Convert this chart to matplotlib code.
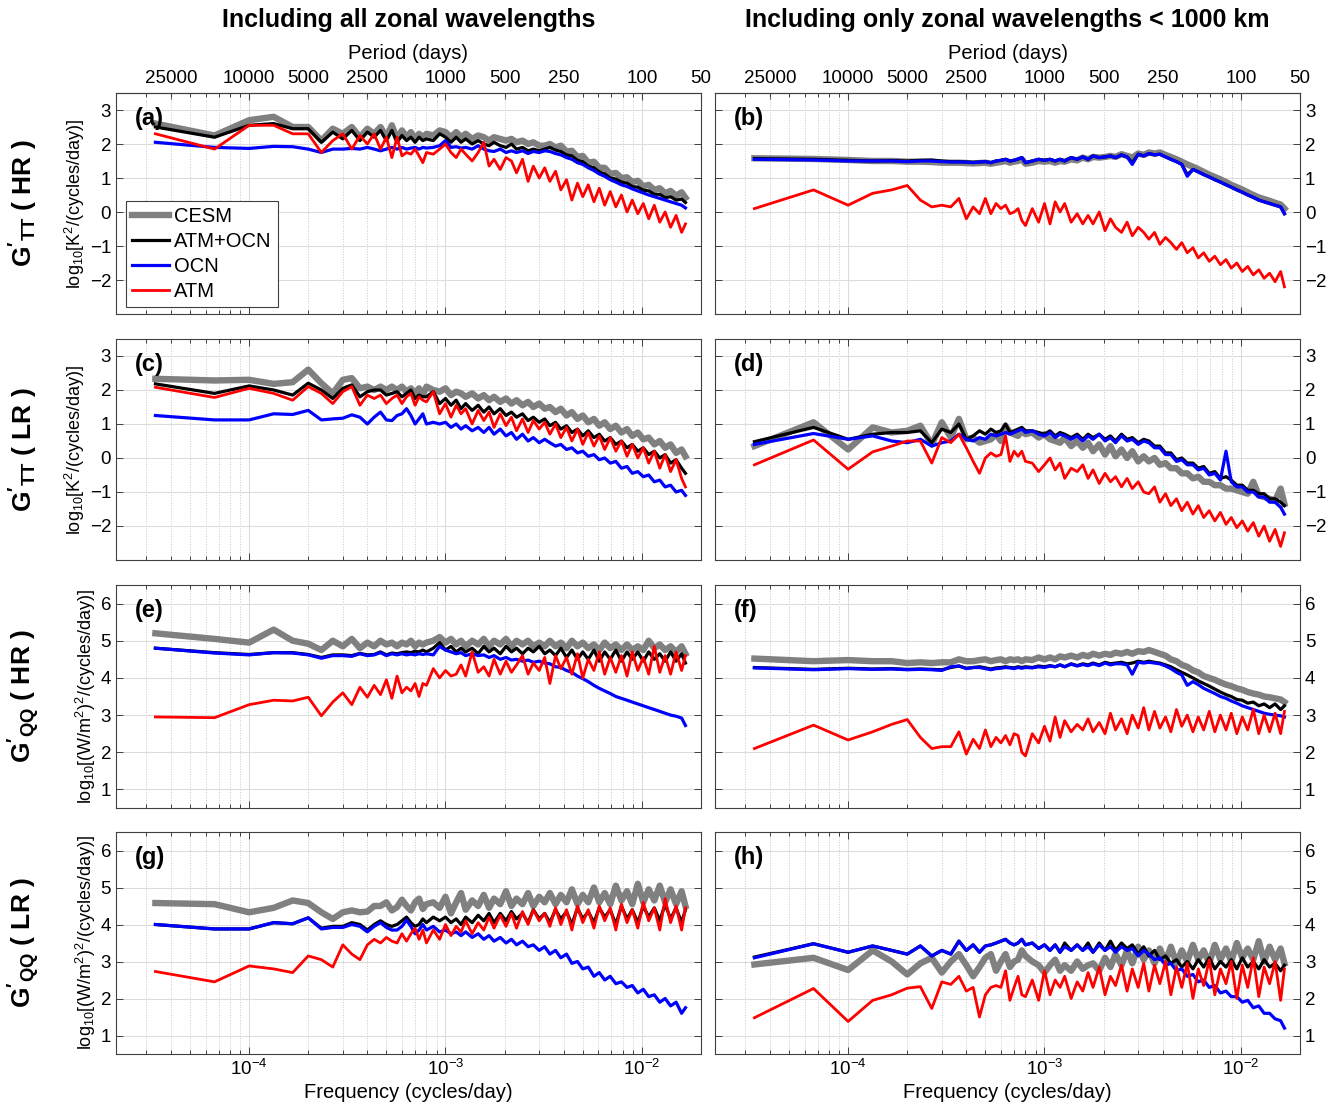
import numpy as np
import matplotlib
matplotlib.use('Agg')
import matplotlib.pyplot as plt
from matplotlib.ticker import LogLocator, NullLocator, NullFormatter

plt.rcParams['font.family'] = ['Liberation Sans', 'DejaVu Sans']
plt.rcParams['mathtext.fontset'] = 'custom'
plt.rcParams['mathtext.rm'] = 'Liberation Sans'
plt.rcParams['mathtext.it'] = 'Liberation Sans:italic'
plt.rcParams['mathtext.bf'] = 'Liberation Sans:bold'

# harmonic number of each plotted spectral estimate (record length in days below)
harmonic = [1, 2, 3, 4, 5, 6, 7, 8, 9, 10, 11, 12, 13, 14, 15, 16, 17, 18, 19, 20, 21, 22, 23, 24,
            26, 28, 30, 32, 34, 36, 38, 41, 44, 47, 50, 53, 57, 61, 65, 69, 74, 79, 84, 90, 96,
            102, 109, 116, 124, 132, 141, 150, 160, 171, 182, 194, 207, 221, 236, 252, 268, 286,
            305, 325, 347, 370, 394, 420, 448, 478, 500]
record_days = 30000.0

# log10 spectra; order CESM, ATM+OCN, OCN, ATM
a_cesm = [2.6, 2.25, 2.7, 2.8, 2.5, 2.5, 2.1, 2.45, 2.3, 2.5, 2.2, 2.45, 2.3, 2.5, 2.2, 2.55, 2.15, 2.4, 2.2, 2.35, 2.15, 2.3, 2.2, 2.3,
          2.25, 2.4, 2.35, 2.2, 2.35, 2.2, 2.3, 2.15, 2.25, 2.2, 2.1, 2.2, 2.15, 2.1, 2.15, 2.05, 2.1, 2.0, 2.05, 1.95, 1.95,
          2.0, 1.9, 1.95, 1.78, 1.8, 1.62, 1.65, 1.45, 1.48, 1.3, 1.3, 1.12, 1.15, 1.0, 1.02, 0.88, 0.92, 0.75, 0.8, 0.65, 0.7, 0.55, 0.62, 0.48, 0.58, 0.42]
a_atmocn = [2.5, 2.2, 2.55, 2.6, 2.45, 2.45, 2.05, 2.35, 2.15, 2.4, 2.1, 2.35, 2.2, 2.4, 2.1, 2.4, 2.05, 2.25, 2.1, 2.2, 2.05, 2.2, 2.1, 2.15,
            2.1, 2.3, 2.2, 2.05, 2.2, 2.05, 2.15, 2.0, 2.1, 2.0, 1.95, 2.05, 1.95, 1.9, 2.0, 1.85, 1.9, 1.8, 1.85, 1.8, 1.85,
            1.9, 1.82, 1.78, 1.68, 1.65, 1.52, 1.48, 1.35, 1.3, 1.18, 1.12, 1.0, 0.97, 0.88, 0.85, 0.75, 0.73, 0.64, 0.62, 0.52, 0.52, 0.42, 0.45, 0.35, 0.38, 0.28]
a_ocn = [2.05, 1.9, 1.87, 1.93, 1.92, 1.85, 1.75, 1.85, 1.85, 1.87, 1.85, 1.9, 1.85, 1.8, 1.85, 1.9, 1.85, 1.9, 1.85, 1.88, 1.9, 1.85, 1.9, 1.88,
         1.9, 1.95, 2.1, 1.9, 1.92, 1.88, 1.9, 1.85, 1.95, 1.85, 1.8, 1.78, 1.85, 1.75, 1.8, 1.75, 1.8, 1.72, 1.78, 1.75, 1.8,
         1.78, 1.72, 1.68, 1.6, 1.55, 1.45, 1.4, 1.3, 1.22, 1.12, 1.05, 0.95, 0.88, 0.8, 0.75, 0.68, 0.62, 0.56, 0.5, 0.45, 0.4, 0.35, 0.3, 0.25, 0.2, 0.12]
a_atm = [2.3, 1.85, 2.55, 2.55, 2.3, 2.3, 1.75, 2.1, 2.3, 1.85, 2.25, 2.0, 2.3, 1.85, 2.2, 1.6, 2.2, 1.65, 1.75, 1.7, 1.85, 1.65, 1.45, 1.75,
         1.7, 1.85, 2.0, 1.75, 1.6, 1.85, 1.7, 1.5, 1.75, 2.05, 1.35, 1.55, 1.25, 1.6, 1.5, 1.15, 1.55, 0.9, 1.35, 1.0, 1.3,
         0.9, 1.2, 0.65, 0.95, 0.35, 0.85, 0.45, 0.8, 0.3, 0.7, 0.2, 0.6, 0.15, 0.5, 0.0, 0.35, -0.05, 0.25, -0.2, 0.2, -0.3, 0.0, -0.45, -0.1, -0.6, -0.35]

b_cesm = [1.58, 1.56, 1.53, 1.5, 1.5, 1.48, 1.48, 1.47, 1.45, 1.45, 1.45, 1.44, 1.43, 1.44, 1.45, 1.42, 1.45, 1.47, 1.5, 1.45, 1.48, 1.5, 1.55, 1.42,
          1.45, 1.5, 1.48, 1.5, 1.45, 1.5, 1.48, 1.55, 1.52, 1.6, 1.55, 1.62, 1.6, 1.62, 1.65, 1.62, 1.7, 1.65, 1.6, 1.72, 1.68,
          1.75, 1.72, 1.75, 1.68, 1.62, 1.55, 1.48, 1.4, 1.33, 1.26, 1.18, 1.1, 1.03, 0.96, 0.88, 0.8, 0.73, 0.66, 0.58, 0.5, 0.43, 0.38, 0.33, 0.27, 0.22, 0.1]
b_atmocn = [1.57, 1.55, 1.52, 1.5, 1.51, 1.5, 1.52, 1.53, 1.5, 1.48, 1.48, 1.47, 1.46, 1.47, 1.48, 1.45, 1.5, 1.52, 1.55, 1.5, 1.52, 1.56, 1.6, 1.45,
            1.5, 1.55, 1.52, 1.55, 1.5, 1.55, 1.5, 1.6, 1.55, 1.62, 1.55, 1.65, 1.6, 1.62, 1.65, 1.6, 1.68, 1.62, 1.45, 1.7, 1.65,
            1.72, 1.68, 1.7, 1.62, 1.55, 1.48, 1.4, 1.1, 1.25, 1.18, 1.1, 1.03, 0.95, 0.88, 0.8, 0.73, 0.65, 0.58, 0.5, 0.43, 0.35, 0.3, 0.25, 0.2, 0.15, -0.05]
b_ocn = [1.55, 1.53, 1.5, 1.5, 1.5, 1.48, 1.5, 1.5, 1.48, 1.47, 1.47, 1.47, 1.45, 1.47, 1.48, 1.45, 1.5, 1.52, 1.55, 1.5, 1.52, 1.56, 1.6, 1.45,
         1.5, 1.55, 1.52, 1.55, 1.5, 1.55, 1.5, 1.6, 1.55, 1.62, 1.55, 1.65, 1.6, 1.62, 1.65, 1.6, 1.68, 1.62, 1.4, 1.7, 1.65,
         1.72, 1.68, 1.7, 1.62, 1.55, 1.48, 1.4, 1.05, 1.25, 1.18, 1.1, 1.03, 0.95, 0.88, 0.8, 0.73, 0.65, 0.58, 0.5, 0.43, 0.35, 0.3, 0.25, 0.2, 0.15, -0.05]
b_atm = [0.1, 0.65, 0.2, 0.55, 0.65, 0.78, 0.35, 0.15, 0.2, 0.15, 0.4, -0.2, 0.15, -0.05, 0.4, -0.05, 0.25, 0.1, 0.2, -0.05, 0.0, 0.1, -0.25, -0.4,
         0.1, -0.3, 0.25, -0.35, 0.3, 0.0, 0.25, -0.3, -0.05, -0.35, -0.1, -0.35, 0.0, -0.55, -0.2, -0.45, -0.6, -0.3, -0.7, -0.45, -0.6,
         -0.8, -0.6, -0.95, -0.75, -0.9, -1.1, -0.9, -1.2, -1.05, -1.35, -1.2, -1.45, -1.3, -1.55, -1.4, -1.65, -1.5, -1.75, -1.6, -1.85, -1.7, -1.95, -1.8, -2.05, -1.75, -2.2]

c_cesm = [2.33, 2.28, 2.3, 2.18, 2.23, 2.6, 2.2, 1.9, 2.3, 2.35, 2.05, 2.1, 2.0, 2.1, 2.0, 2.1, 2.0, 2.1, 1.95, 2.05, 1.9, 2.05, 1.85, 2.1,
          2.0, 1.95, 2.05, 1.85, 1.95, 1.9, 1.8, 1.9, 1.75, 1.85, 1.7, 1.8, 1.65, 1.75, 1.6, 1.7, 1.55, 1.65, 1.5, 1.6, 1.45,
          1.5, 1.35, 1.45, 1.25, 1.35, 1.15, 1.25, 1.05, 1.15, 0.95, 1.05, 0.85, 0.95, 0.75, 0.85, 0.65, 0.75, 0.55, 0.6, 0.4, 0.5, 0.3, 0.4, 0.15, 0.25, 0.05]
c_atmocn = [2.18, 1.9, 2.12, 2.0, 1.85, 2.2, 2.0, 1.75, 2.05, 2.15, 1.8, 1.95, 2.0, 2.0, 1.85, 1.9, 1.95, 1.8, 1.9, 2.0, 1.75, 1.85, 1.8, 1.8,
            1.95, 1.6, 1.75, 1.55, 1.7, 1.45, 1.6, 1.4, 1.55, 1.35, 1.5, 1.3, 1.45, 1.25, 1.35, 1.2, 1.3, 1.1, 1.2, 1.05, 1.15,
            0.95, 1.05, 0.85, 0.95, 0.75, 0.85, 0.65, 0.8, 0.6, 0.7, 0.5, 0.6, 0.4, 0.5, 0.3, 0.4, 0.2, 0.3, 0.1, 0.2, 0.0, 0.1, -0.15, -0.05, -0.3, -0.45]
c_ocn = [1.25, 1.12, 1.12, 1.3, 1.28, 1.4, 1.12, 1.15, 1.17, 1.27, 1.2, 1.0, 1.2, 1.35, 1.12, 1.1, 1.25, 1.3, 1.45, 1.25, 1.0, 1.15, 1.3, 1.0,
         1.05, 1.0, 1.05, 0.9, 1.0, 0.85, 0.95, 0.8, 0.9, 0.75, 0.9, 0.7, 0.85, 0.65, 0.75, 0.55, 0.7, 0.5, 0.6, 0.45, 0.55,
         0.45, 0.35, 0.4, 0.25, 0.3, 0.15, 0.2, 0.05, 0.1, -0.05, 0.0, -0.15, -0.1, -0.3, -0.25, -0.45, -0.4, -0.55, -0.5, -0.7, -0.65, -0.85, -0.8, -1.0, -0.95, -1.1]
c_atm = [2.08, 1.78, 2.05, 1.9, 1.7, 2.1, 1.9, 1.6, 1.95, 2.1, 1.55, 1.85, 1.75, 1.85, 1.6, 1.75, 1.85, 1.6, 1.8, 1.9, 1.55, 1.8, 1.7, 1.65,
         1.95, 1.3, 1.6, 1.2, 1.55, 1.3, 1.45, 1.0, 1.4, 1.1, 1.35, 0.9, 1.3, 0.95, 1.2, 0.8, 1.15, 0.75, 1.1, 0.85, 1.05,
         0.7, 1.0, 0.6, 0.9, 0.5, 0.85, 0.4, 0.75, 0.35, 0.65, 0.25, 0.6, 0.2, 0.5, 0.05, 0.4, 0.0, 0.3, -0.15, 0.2, -0.3, 0.1, -0.4, -0.05, -0.6, -0.85]

d_cesm = [0.35, 1.05, 0.25, 0.9, 0.75, 0.8, 0.95, 0.4, 1.05, 0.6, 1.15, 0.55, 0.6, 0.45, 0.5, 0.55, 0.7, 0.5, 0.95, 0.75, 0.7, 0.65, 0.8, 0.7,
          0.75, 0.6, 0.7, 0.55, 0.5, 0.45, 0.6, 0.35, 0.5, 0.3, 0.45, 0.2, 0.4, 0.1, 0.35, 0.05, 0.25, 0.0, 0.2, -0.1, 0.05,
          -0.1, 0.0, -0.2, -0.15, -0.3, -0.3, -0.45, -0.45, -0.6, -0.55, -0.7, -0.7, -0.8, -0.8, -0.9, -0.9, -0.95, -1.0, -1.05, -0.7, -1.1, -1.15, -1.2, -1.25, -0.9, -1.35]
d_atmocn = [0.48, 0.9, 0.55, 0.7, 0.75, 0.75, 0.8, 0.45, 0.85, 0.75, 1.0, 0.55, 0.65, 0.8, 0.7, 0.85, 0.75, 0.8, 1.0, 0.75, 0.8, 0.85, 0.9, 0.8,
            0.8, 0.75, 0.7, 0.8, 0.65, 0.75, 0.7, 0.6, 0.7, 0.55, 0.7, 0.6, 0.7, 0.55, 0.65, 0.5, 0.7, 0.55, 0.6, 0.45, 0.55,
            0.5, 0.35, 0.35, 0.15, 0.15, -0.05, 0.0, -0.15, -0.15, -0.3, -0.25, -0.45, -0.4, -0.6, -0.55, -0.65, -0.8, -0.8, -0.95, -0.95, -1.05, -1.05, -1.2, -1.2, -1.3, -1.4]
d_ocn = [0.4, 0.72, 0.55, 0.65, 0.5, 0.45, 0.55, 0.35, 0.45, 0.5, 0.7, 0.55, 0.5, 0.6, 0.55, 0.7, 0.65, 0.7, 0.75, 0.7, 0.75, 0.8, 0.85, 0.75,
         0.8, 0.7, 0.65, 0.75, 0.6, 0.7, 0.65, 0.55, 0.65, 0.5, 0.65, 0.55, 0.7, 0.5, 0.6, 0.45, 0.65, 0.5, 0.55, 0.4, 0.5,
         0.45, 0.3, 0.3, 0.1, 0.1, -0.1, -0.05, -0.2, -0.2, -0.35, -0.3, -0.5, -0.45, -0.65, 0.2, -0.7, -0.85, -0.85, -1.0, -1.0, -1.15, -1.15, -1.3, -1.3, -1.45, -1.65]
d_atm = [-0.2, 0.53, -0.33, 0.18, 0.35, 0.5, 0.5, -0.15, 0.6, 0.45, 0.7, 0.3, -0.1, -0.45, 0.0, 0.15, 0.05, 0.1, 0.65, -0.1, 0.2, 0.05, 0.2, -0.1,
         -0.15, -0.4, -0.2, 0.0, -0.35, -0.15, -0.6, -0.3, -0.4, -0.2, -0.6, -0.35, -0.75, -0.45, -0.7, -0.55, -0.85, -0.6, -0.9, -0.7, -1.0,
         -1.05, -0.85, -1.3, -1.05, -1.4, -1.2, -1.55, -1.3, -1.65, -1.4, -1.75, -1.55, -1.85, -1.6, -1.95, -1.75, -2.05, -1.85, -2.15, -1.9, -2.3, -2.0, -2.45, -2.1, -2.6, -2.2]

e_cesm = [5.2, 5.05, 4.95, 5.3, 5.0, 4.92, 4.75, 5.0, 4.85, 5.05, 4.8, 4.95, 4.85, 5.0, 4.9, 4.95, 4.85, 4.95, 4.9, 5.0, 4.85, 4.95, 4.9, 4.95,
          5.0, 5.1, 4.95, 5.05, 4.9, 5.0, 4.85, 5.0, 4.9, 5.05, 4.85, 5.0, 4.9, 5.05, 4.85, 5.0, 4.9, 5.0, 4.85, 4.95, 4.85,
          5.0, 4.85, 4.95, 4.8, 5.0, 4.85, 4.95, 4.8, 4.9, 4.75, 4.95, 4.8, 4.9, 4.75, 4.9, 4.75, 4.85, 4.75, 5.0, 4.8, 4.9, 4.75, 4.85, 4.7, 4.85, 4.65]
e_atmocn = [4.8, 4.68, 4.63, 4.68, 4.68, 4.63, 4.55, 4.62, 4.62, 4.6, 4.66, 4.62, 4.63, 4.7, 4.62, 4.67, 4.65, 4.68, 4.7, 4.68, 4.72, 4.7, 4.75, 4.7,
            4.8, 4.95, 4.75, 4.85, 4.7, 4.8, 4.7, 4.8, 4.65, 4.85, 4.7, 4.8, 4.65, 4.85, 4.7, 4.8, 4.65, 4.8, 4.7, 4.85, 4.65,
            4.75, 4.6, 4.8, 4.55, 4.75, 4.5, 4.7, 4.5, 4.75, 4.45, 4.7, 4.5, 4.75, 4.45, 4.7, 4.5, 4.7, 4.45, 4.7, 4.5, 4.65, 4.45, 4.7, 4.45, 4.65, 4.4]
e_ocn = [4.8, 4.67, 4.62, 4.68, 4.67, 4.62, 4.53, 4.6, 4.6, 4.58, 4.65, 4.6, 4.62, 4.68, 4.6, 4.65, 4.62, 4.65, 4.62, 4.64, 4.62, 4.65, 4.63, 4.65,
         4.62, 4.85, 4.75, 4.7, 4.65, 4.68, 4.6, 4.65, 4.6, 4.62, 4.55, 4.6, 4.5, 4.55, 4.48, 4.5, 4.45, 4.48, 4.42, 4.45, 4.4,
         4.38, 4.3, 4.28, 4.2, 4.15, 4.05, 3.98, 3.9, 3.8, 3.72, 3.65, 3.58, 3.5, 3.45, 3.4, 3.35, 3.3, 3.25, 3.2, 3.15, 3.1, 3.05, 3.0, 2.97, 2.92, 2.72]
e_atm = [2.95, 2.93, 3.28, 3.4, 3.38, 3.48, 2.98, 3.35, 3.6, 3.28, 3.75, 3.48, 3.8, 3.55, 3.95, 3.45, 4.05, 3.6, 3.75, 3.65, 3.85, 3.5, 3.85, 3.8,
         4.25, 4.0, 4.2, 4.05, 4.1, 4.35, 4.05, 4.7, 4.15, 4.3, 4.05, 4.5, 4.1, 4.45, 4.15, 4.35, 4.6, 4.1, 4.4, 4.2, 4.55,
         3.85, 4.6, 4.25, 4.55, 4.1, 4.65, 4.0, 4.5, 4.2, 4.7, 4.1, 4.55, 4.15, 4.6, 4.05, 4.7, 4.2, 4.55, 4.1, 4.85, 4.15, 4.6, 4.1, 4.7, 4.2, 4.6]

f_cesm = [4.52, 4.45, 4.48, 4.45, 4.45, 4.4, 4.42, 4.4, 4.42, 4.42, 4.5, 4.45, 4.45, 4.48, 4.5, 4.45, 4.48, 4.5, 4.45, 4.5, 4.48, 4.5, 4.45, 4.5,
          4.48, 4.55, 4.5, 4.55, 4.5, 4.58, 4.55, 4.6, 4.55, 4.62, 4.58, 4.65, 4.6, 4.65, 4.62, 4.68, 4.65, 4.7, 4.65, 4.72, 4.7,
          4.75, 4.7, 4.65, 4.6, 4.5, 4.45, 4.35, 4.3, 4.2, 4.15, 4.05, 4.0, 3.95, 3.88, 3.82, 3.78, 3.72, 3.68, 3.62, 3.58, 3.55, 3.5, 3.48, 3.45, 3.42, 3.35]
f_atmocn = [4.28, 4.23, 4.26, 4.24, 4.25, 4.23, 4.24, 4.23, 4.22, 4.28, 4.32, 4.26, 4.28, 4.3, 4.27, 4.24, 4.27, 4.28, 4.3, 4.28, 4.27, 4.3, 4.28, 4.3,
            4.28, 4.32, 4.3, 4.33, 4.3, 4.35, 4.3, 4.38, 4.33, 4.38, 4.35, 4.4, 4.35, 4.42, 4.38, 4.4, 4.42, 4.38, 4.4, 4.45, 4.42,
            4.45, 4.42, 4.4, 4.35, 4.3, 4.22, 4.15, 4.08, 4.0, 3.92, 3.85, 3.78, 3.7, 3.62, 3.55, 3.5, 3.42, 3.4, 3.32, 3.35, 3.25, 3.3, 3.2, 3.3, 3.15, 3.25]
f_ocn = [4.27, 4.22, 4.25, 4.23, 4.24, 4.22, 4.23, 4.22, 4.2, 4.3, 4.32, 4.25, 4.28, 4.28, 4.25, 4.22, 4.25, 4.26, 4.28, 4.27, 4.25, 4.28, 4.26, 4.28,
         4.27, 4.3, 4.28, 4.32, 4.3, 4.35, 4.3, 4.37, 4.32, 4.36, 4.33, 4.38, 4.33, 4.4, 4.35, 4.38, 4.38, 4.35, 4.1, 4.42, 4.4,
         4.42, 4.4, 4.38, 4.32, 4.25, 4.15, 4.08, 3.8, 3.9, 3.82, 3.72, 3.65, 3.58, 3.5, 3.45, 3.38, 3.32, 3.25, 3.2, 3.15, 3.1, 3.05, 3.02, 3.0, 2.98, 2.95]
f_atm = [2.1, 2.73, 2.33, 2.55, 2.75, 2.88, 2.4, 2.1, 2.15, 2.15, 2.55, 1.95, 2.35, 2.1, 2.6, 2.15, 2.4, 2.25, 2.45, 2.2, 2.5, 2.45, 2.0, 1.9,
         2.5, 2.25, 2.7, 2.3, 2.95, 2.4, 2.85, 2.55, 2.75, 2.6, 2.9, 2.55, 2.8, 2.5, 3.05, 2.6, 2.9, 2.5, 3.0, 2.65, 3.2,
         2.6, 3.1, 2.65, 2.95, 2.55, 3.15, 2.7, 3.0, 2.55, 2.95, 2.6, 3.1, 2.55, 3.0, 2.6, 3.05, 2.5, 2.95, 2.6, 3.15, 2.5, 3.0, 2.55, 3.05, 2.5, 3.1]

g_cesm = [4.58, 4.55, 4.33, 4.45, 4.65, 4.58, 4.33, 4.15, 4.33, 4.38, 4.33, 4.35, 4.5, 4.5, 4.6, 4.38, 4.47, 4.67, 4.5, 4.38, 4.6, 4.7, 4.42, 4.55,
          4.6, 4.45, 4.75, 4.3, 4.6, 4.85, 4.4, 4.65, 4.5, 4.8, 4.45, 4.7, 4.55, 4.9, 4.5, 4.7, 4.55, 4.85, 4.5, 4.75, 4.6,
          4.85, 4.55, 4.8, 4.6, 4.95, 4.55, 4.8, 4.6, 5.0, 4.6, 4.85, 4.55, 5.05, 4.65, 4.9, 4.55, 5.1, 4.6, 4.95, 4.65, 5.05, 4.6, 4.95, 4.55, 4.9, 4.5]
g_atmocn = [4.0, 3.88, 3.88, 4.05, 4.02, 4.18, 3.9, 3.95, 3.95, 4.05, 4.0, 3.85, 4.0, 4.1, 4.0, 3.95, 4.0, 4.1, 4.2, 4.05, 3.95, 4.0, 4.15, 4.05,
            4.2, 4.1, 4.2, 4.05, 4.15, 4.0, 4.2, 4.05, 4.25, 4.1, 4.3, 4.05, 4.3, 4.1, 4.35, 4.15, 4.3, 4.05, 4.4, 4.15, 4.3,
            4.05, 4.4, 4.15, 4.35, 4.0, 4.45, 4.15, 4.35, 4.05, 4.45, 4.2, 4.4, 4.0, 4.5, 4.15, 4.4, 4.05, 4.5, 4.2, 4.45, 4.1, 4.55, 4.15, 4.45, 4.05, 4.4]
g_ocn = [4.0, 3.88, 3.88, 4.05, 4.02, 4.18, 3.88, 3.92, 3.92, 4.0, 3.95, 3.8, 3.95, 4.05, 3.92, 3.85, 3.85, 3.95, 4.12, 3.95, 3.75, 3.85, 4.0, 3.85,
         3.95, 3.8, 3.85, 3.75, 3.8, 3.7, 3.8, 3.65, 3.75, 3.6, 3.7, 3.55, 3.65, 3.5, 3.6, 3.45, 3.55, 3.4, 3.45, 3.3, 3.4,
         3.2, 3.3, 3.1, 3.2, 2.95, 3.0, 2.8, 2.85, 2.6, 2.7, 2.5, 2.6, 2.4, 2.45, 2.3, 2.35, 2.15, 2.25, 2.05, 2.1, 1.9, 2.0, 1.8, 1.9, 1.6, 1.75]
g_atm = [2.73, 2.45, 2.88, 2.8, 2.7, 3.15, 3.05, 2.85, 3.45, 3.2, 3.05, 3.45, 3.6, 3.5, 3.65, 3.55, 3.5, 3.75, 3.55, 3.75, 3.9, 3.6, 3.85, 3.5,
         3.85, 3.6, 4.0, 3.7, 3.95, 3.8, 4.1, 3.75, 4.05, 3.85, 4.2, 3.9, 4.25, 3.95, 4.3, 3.9, 4.35, 4.0, 4.4, 4.1, 4.3,
         3.95, 4.45, 4.0, 4.4, 3.85, 4.5, 4.05, 4.4, 3.9, 4.5, 4.1, 4.45, 3.85, 4.55, 4.05, 4.4, 3.9, 4.6, 4.1, 4.45, 3.85, 4.7, 4.05, 4.5, 3.85, 4.45]

h_cesm = [2.92, 3.1, 2.77, 3.3, 3.0, 2.65, 2.95, 3.1, 2.7, 3.0, 3.2, 2.9, 2.6, 2.85, 3.1, 3.2, 2.75, 3.0, 3.2, 2.85, 3.0, 3.05, 3.3, 3.15,
          3.0, 2.9, 2.7, 2.9, 3.05, 2.75, 2.9, 2.75, 3.0, 2.8, 2.9, 2.95, 2.75, 3.1, 2.85, 3.2, 2.9, 3.3, 2.95, 3.4, 3.05,
          3.3, 2.95, 3.35, 3.0, 3.4, 2.95, 3.3, 3.0, 3.45, 3.05, 3.3, 2.95, 3.45, 3.05, 3.35, 3.0, 3.5, 3.1, 3.35, 3.05, 3.55, 3.0, 3.4, 3.05, 3.35, 2.95]
h_atmocn = [3.12, 3.48, 3.25, 3.42, 3.3, 3.2, 3.42, 3.15, 3.3, 3.2, 3.55, 3.3, 3.45, 3.25, 3.42, 3.45, 3.5, 3.55, 3.6, 3.5, 3.45, 3.5, 3.6, 3.45,
            3.5, 3.35, 3.45, 3.3, 3.45, 3.25, 3.5, 3.3, 3.45, 3.3, 3.5, 3.25, 3.5, 3.3, 3.55, 3.3, 3.5, 3.35, 3.45, 3.2, 3.4,
            3.15, 3.3, 3.05, 3.15, 2.95, 3.05, 2.85, 3.0, 2.8, 3.05, 2.85, 3.1, 2.8, 3.0, 2.85, 3.05, 2.8, 3.1, 2.85, 3.0, 2.8, 3.05, 2.85, 2.95, 2.75, 2.9]
h_ocn = [3.1, 3.48, 3.25, 3.42, 3.3, 3.2, 3.42, 3.15, 3.3, 3.2, 3.55, 3.3, 3.45, 3.25, 3.42, 3.45, 3.5, 3.55, 3.6, 3.5, 3.45, 3.5, 3.6, 3.45,
         3.5, 3.35, 3.45, 3.3, 3.45, 3.25, 3.4, 3.3, 3.45, 3.3, 3.4, 3.25, 3.45, 3.3, 3.4, 3.25, 3.4, 3.3, 3.35, 3.15, 3.3,
         3.2, 3.05, 3.1, 2.9, 2.95, 2.75, 2.8, 2.6, 2.65, 2.45, 2.5, 2.3, 2.35, 2.15, 2.2, 2.05, 2.05, 1.9, 1.95, 1.75, 1.8, 1.6, 1.6, 1.45, 1.4, 1.2]
h_atm = [1.48, 2.27, 1.38, 1.95, 2.1, 2.28, 2.32, 1.73, 2.45, 2.38, 2.6, 2.2, 2.3, 1.5, 2.1, 2.3, 2.35, 2.3, 2.75, 1.95, 2.3, 2.6, 2.1, 2.05,
         2.5, 1.95, 2.75, 2.1, 2.5, 2.3, 2.6, 2.0, 2.45, 2.2, 2.7, 2.3, 2.85, 2.1, 2.6, 2.35, 2.9, 2.2, 2.8, 2.3, 2.95,
         2.2, 2.9, 2.4, 3.0, 2.1, 2.85, 2.3, 2.95, 2.0, 2.8, 2.35, 3.05, 2.1, 2.8, 2.4, 3.0, 2.0, 2.9, 2.3, 3.1, 2.05, 2.85, 2.4, 3.0, 1.95, 2.8]

series_names = ['CESM', 'ATM+OCN', 'OCN', 'ATM']
periods = [25000, 10000, 5000, 2500, 1000, 500, 250, 100, 50]
col_titles = ['Including all zonal wavelengths', 'Including only zonal wavelengths < 1000 km']
row_labels = [r"$\mathbf{G'_{TT}}$ ( HR )", r"$\mathbf{G'_{TT}}$ ( LR )",
              r"$\mathbf{G'_{QQ}}$ ( HR )", r"$\mathbf{G'_{QQ}}$ ( LR )"]
ylab_T = r'log$_{10}$[K$^2$/(cycles/day)]'
ylab_Q = r'log$_{10}$[(W/m$^2$)$^2$/(cycles/day)]'

panels = [
    [('(a)', a_cesm, a_atmocn, a_ocn, a_atm), ('(b)', b_cesm, b_atmocn, b_ocn, b_atm)],
    [('(c)', c_cesm, c_atmocn, c_ocn, c_atm), ('(d)', d_cesm, d_atmocn, d_ocn, d_atm)],
    [('(e)', e_cesm, e_atmocn, e_ocn, e_atm), ('(f)', f_cesm, f_atmocn, f_ocn, f_atm)],
    [('(g)', g_cesm, g_atmocn, g_ocn, g_atm), ('(h)', h_cesm, h_atmocn, h_ocn, h_atm)],
]

freq = np.array(harmonic) / record_days
colors = ['#808080', '#000000', '#0000ff', '#ff0000']
widths = [4.6, 2.3, 2.3, 2.0]

W, H = 1333.0, 1115.0
col_px = [(116, 701), (715, 1300)]
row_px = [(93, 314), (339, 560), (585, 808), (832, 1054)]
AXCOL = '#404040'


def inv(x):
    x = np.asarray(x, dtype=float)
    with np.errstate(divide='ignore'):
        return 1.0 / x


fig = plt.figure(figsize=(W / 100, H / 100), dpi=100)

for r in range(4):
    top, bot = row_px[r]
    for c in range(2):
        x0, x1 = col_px[c]
        ax = fig.add_axes([x0 / W, 1 - bot / H, (x1 - x0) / W, (bot - top) / H])
        letter = panels[r][c][0]
        data = panels[r][c][1:]
        for vals, name, col, lw in zip(data, series_names, colors, widths):
            ax.plot(freq, vals, color=col, lw=lw, label=name)

        ax.set_xscale('log')
        ax.set_xlim(2.1e-5, 2.0e-2)
        if r < 2:
            ax.set_ylim(-3, 3.5)
            ax.set_yticks([-2, -1, 0, 1, 2, 3])
        else:
            ax.set_ylim(0.5, 6.5)
            ax.set_yticks([1, 2, 3, 4, 5, 6])
        ax.xaxis.set_major_locator(LogLocator(base=10, numticks=10))
        ax.xaxis.set_minor_locator(LogLocator(base=10, subs=np.arange(2, 10), numticks=40))
        ax.xaxis.set_minor_formatter(NullFormatter())

        ax.grid(True, which='major', color='#dcdcdc', lw=0.8)
        ax.grid(True, which='minor', axis='x', color='#c8c8c8', lw=0.7, ls=':')
        ax.set_axisbelow(True)
        for sp in ax.spines.values():
            sp.set_color(AXCOL)
            sp.set_linewidth(0.8)
        ax.tick_params(which='both', direction='in', top=True, right=True, color=AXCOL,
                       labelsize=13.5, width=0.7)
        ax.tick_params(which='major', length=5)
        ax.tick_params(which='minor', length=3)
        if r < 3:
            ax.tick_params(labelbottom=False)
        else:
            ax.set_xlabel('Frequency (cycles/day)', fontsize=14.5, labelpad=3)
        if c == 1:
            ax.tick_params(labelleft=False, labelright=True)
        else:
            ax.set_ylabel(ylab_T if r < 2 else ylab_Q, fontsize=13, labelpad=2)

        ax.text(0.032, 0.885, letter, transform=ax.transAxes, fontsize=17,
                fontweight='bold', ha='left', va='center')

        if r == 0:
            sec = ax.secondary_xaxis('top', functions=(inv, inv))
            sec.set_xticks(periods, labels=[str(p) for p in periods])
            sec.xaxis.set_minor_locator(NullLocator())
            sec.tick_params(direction='in', length=4, labelsize=13.5, color=AXCOL, pad=4)
            sec.spines['top'].set_color(AXCOL)
            sec.set_xlabel('Period (days)', fontsize=14.5, labelpad=8)

        if r == 0 and c == 0:
            leg = ax.legend(loc='lower left', bbox_to_anchor=(0.017, 0.032), fontsize=14.5,
                            frameon=True, fancybox=False, framealpha=1, edgecolor=AXCOL,
                            handlelength=1.85, handletextpad=0.25, labelspacing=0.3,
                            borderpad=0.3, borderaxespad=0)
            leg.get_frame().set_linewidth(0.8)

    fig.text(24 / W, 1 - (top + bot) / 2 / H, row_labels[r], rotation=90, ha='center',
             va='center', fontsize=19, fontweight='bold')

for c in range(2):
    x0, x1 = col_px[c]
    fig.text((x0 + x1) / 2 / W, 1 - 20 / H, col_titles[c], ha='center', va='center',
             fontsize=18, fontweight='bold')

fig.savefig('out.png', dpi=100)
